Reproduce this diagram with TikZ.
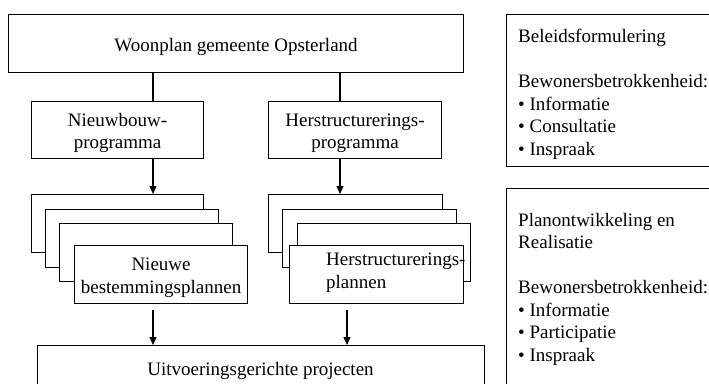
\documentclass[tikz,border=0pt]{standalone}
\usepackage{fontspec}
\setmainfont{Liberation Serif}
\usetikzlibrary{arrows.meta}
\newcommand{\tallstrut}{\rule{0pt}{19pt}}
\tikzset{
  box/.style={draw, line width=1.1pt, fill=white, rectangle, inner sep=0pt, anchor=north west, font=\fontsize{19}{22.5}\selectfont, align=center},
  txt/.style={inner sep=0pt, font=\fontsize{19}{22.5}\selectfont, align=left},
  conn/.style={line width=1.1pt},
  arr/.style={line width=1.1pt, -{Triangle[width=7pt,length=8pt]}}
}
\begin{document}
\begin{tikzpicture}[x=1pt,y=-1pt]
\useasboundingbox (0,0) rectangle (709,383);
\clip (0,0) rectangle (709,383);
% top
\node[box, minimum width=455pt, minimum height=58pt] (top) at (8,14) {\tallstrut Woonplan gemeente Opsterland};
% programmes
\node[box, minimum width=172pt, minimum height=57pt] (nbp) at (31,101) {\tallstrut Nieuwbouw-\\programma};
\node[box, minimum width=173pt, minimum height=57pt] (hsp) at (268,101) {\tallstrut Herstructurerings-\\programma};
% left stack
\node[box, minimum width=172pt, minimum height=58pt] (l1) at (31,194) {};
\node[box, minimum width=173pt, minimum height=58pt] (l2) at (45,209) {};
\node[box, minimum width=173pt, minimum height=58pt] (l3) at (59,223) {};
\node[box, minimum width=173pt, minimum height=58pt] (l4) at (74,245) {\tallstrut Nieuwe\\bestemmingsplannen};
% right stack
\node[box, minimum width=174pt, minimum height=58pt] (r1) at (268,194) {};
\node[box, minimum width=174pt, minimum height=58pt] (r2) at (282,209) {};
\node[box, minimum width=173pt, minimum height=58pt] (r3) at (297,223) {};
\node[box, minimum width=174pt, minimum height=58pt] (r4) at (289,245) {};
\node[txt, anchor=north west] (r4t) at (326,253) {Herstructurerings-\\plannen};
% bottom
\node[box, minimum width=447pt, minimum height=60pt] (uit) at (37,345) {};
\node[txt, align=center] (uitt) at (260.5,371) {Uitvoeringsgerichte projecten};
% right panels
\node[box, minimum width=230pt, minimum height=152pt] (pb) at (506,14) {};
\node[box, minimum width=230pt, minimum height=220pt] (pr) at (506,188) {};
\node[txt, anchor=north west] (pbt) at (518,29) {Beleidsformulering\\[22.5pt]Bewonersbetrokkenheid:\\• Informatie\\• Consultatie\\• Inspraak};
\node[txt, anchor=north west] (prt) at (518,213) {Planontwikkeling en\\Realisatie\\[22.5pt]Bewonersbetrokkenheid:\\• Informatie\\• Participatie\\• Inspraak};
% connectors
\draw[conn] (153,0 |- top.south) -- (153,0 |- nbp.north);
\draw[conn] (340,0 |- top.south) -- (340,0 |- hsp.north);
\draw[arr] (153,0 |- nbp.south) -- (153,0 |- l1.north);
\draw[arr] (340,0 |- hsp.south) -- (340,0 |- r1.north);
\draw[arr] ([yshift=-6pt]153,0 |- l4.south) -- (153,0 |- uit.north);
\draw[arr] ([yshift=-6pt]347,0 |- r4.south) -- (347,0 |- uit.north);
\end{tikzpicture}
\end{document}
